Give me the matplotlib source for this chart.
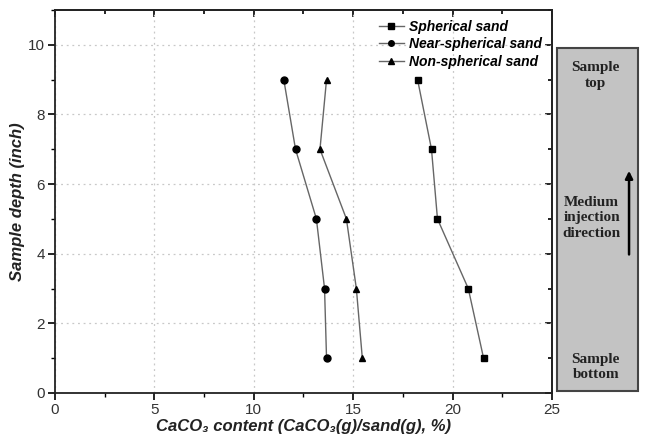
import matplotlib
matplotlib.use("Agg")
import matplotlib.pyplot as plt
from matplotlib.patches import Rectangle
from matplotlib.ticker import MultipleLocator

depth = [9, 7, 5, 3, 1]
spherical = [18.24, 18.94, 19.24, 20.79, 21.56]
near_spherical = [11.51, 12.10, 13.15, 13.56, 13.66]
non_spherical = [13.66, 13.33, 14.66, 15.16, 15.46]
series_names = ["Spherical sand", "Near-spherical sand", "Non-spherical sand"]

sans = ["Liberation Sans", "DejaVu Sans"]
serif = ["Liberation Serif", "DejaVu Serif"]

fig = plt.figure(figsize=(6.49, 4.43), dpi=100)
ax = fig.add_axes([0.0847, 0.1129, 0.7658, 0.8645])

for vals, mk, name in zip([spherical, near_spherical, non_spherical], ["s", "o", "^"], series_names):
    ax.plot(vals, depth, color="#666666", lw=1.0, marker=mk, ms=5,
            mfc="black", mec="black", label=name)

ax.set_xlim(0, 25)
ax.set_ylim(0, 11)
ax.xaxis.set_major_locator(MultipleLocator(5))
ax.xaxis.set_minor_locator(MultipleLocator(2.5))
ax.yaxis.set_major_locator(MultipleLocator(2))
ax.yaxis.set_minor_locator(MultipleLocator(1))
ax.grid(True, which="major", color="#c8c8c8", ls=(0, (1.5, 3)), lw=0.9)
ax.tick_params(which="both", direction="out")
ax.tick_params(which="major", length=5, width=1.2, labelsize=11, labelcolor="#333333", pad=2)
ax.tick_params(which="minor", length=3, width=1.0)
for t in ax.get_xticklabels() + ax.get_yticklabels():
    t.set_family(sans)
for sp in ax.spines.values():
    sp.set_linewidth(1.3)
    sp.set_color("#222222")

# inward ticks on top and right
top = ax.secondary_xaxis("top")
top.xaxis.set_major_locator(MultipleLocator(5))
top.xaxis.set_minor_locator(MultipleLocator(2.5))
top.tick_params(which="both", direction="in", labeltop=False, width=1.2)
top.tick_params(which="major", length=5)
top.tick_params(which="minor", length=3)
right = ax.secondary_yaxis("right")
right.yaxis.set_major_locator(MultipleLocator(2))
right.yaxis.set_minor_locator(MultipleLocator(1))
right.tick_params(which="both", direction="in", labelright=False, width=1.2)
right.tick_params(which="major", length=5)
right.tick_params(which="minor", length=3)
for s in (top, right):
    for sp in s.spines.values():
        sp.set_linewidth(1.3)
        sp.set_color("#222222")

ax.set_xlabel("CaCO\u2083 content (CaCO\u2083(g)/sand(g), %)", family=sans, fontsize=12,
              fontweight="bold", style="italic", color="#222222", labelpad=2)
ax.set_ylabel("Sample depth (inch)", family=sans, fontsize=12,
              fontweight="bold", style="italic", color="#222222", labelpad=2)

leg = ax.legend(loc="upper right", frameon=False, prop={"family": sans, "weight": "bold",
                "style": "italic", "size": 10}, handlelength=1.8, labelspacing=0.25,
                borderaxespad=0.3, handletextpad=0.4, markerscale=0.8)

# right side panel
pax = fig.add_axes([0.858, 0.1174, 0.125, 0.7742])
pax.set_xlim(0, 1)
pax.set_ylim(0, 1)
pax.axis("off")
pax.add_patch(Rectangle((0, 0), 1, 1, facecolor="#c3c3c3", edgecolor="#444444", lw=1.5,
                        transform=pax.transAxes, clip_on=False))
pax.text(0.48, 0.92, "Sample\ntop", ha="center", va="center", family=serif,
         fontweight="bold", fontsize=11, color="#222222", linespacing=1.25)
pax.text(0.43, 0.505, "Medium\ninjection\ndirection", ha="center", va="center",
         family=serif, fontweight="bold", fontsize=11, color="#222222", linespacing=1.25)
pax.text(0.48, 0.07, "Sample\nbottom", ha="center", va="center", family=serif,
         fontweight="bold", fontsize=11, color="#222222", linespacing=1.25)
pax.annotate("", xy=(0.89, 0.65), xytext=(0.89, 0.39),
             arrowprops=dict(arrowstyle="-|>", color="black", lw=1.8, mutation_scale=11))

fig.savefig("out.png", dpi=100)
